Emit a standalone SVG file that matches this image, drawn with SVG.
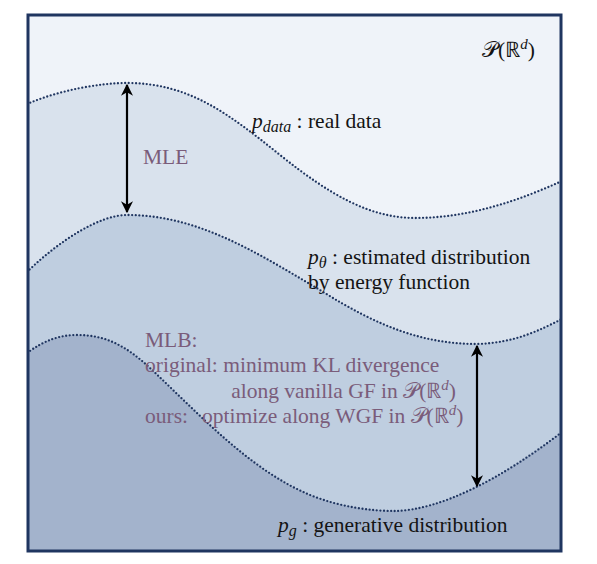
<svg xmlns="http://www.w3.org/2000/svg" width="597" height="564" viewBox="0 0 597 564">
<defs>
<style>
.t{font-family:"Liberation Serif","Times New Roman",serif;font-size:21.5px;fill:#141414}
.m{font-family:"Liberation Serif","Times New Roman",serif;font-size:21.5px;fill:#7a5c7a}
.i{font-style:italic}
.sub{font-style:italic;font-size:16px}
.sup{font-style:italic;font-size:15px}
.cal{font-family:"DejaVu Serif","DejaVu Sans","Liberation Serif",serif;font-weight:normal}
.dot{fill:none;stroke:#1f3560;stroke-width:2.3;stroke-linecap:round;stroke-dasharray:0 3.6}
.arr{stroke:#000;stroke-width:2.2;fill:none;marker-start:url(#ah);marker-end:url(#ah)}
</style>
<marker id="ah" viewBox="0 0 10 10" refX="9" refY="5" markerWidth="5.5" markerHeight="5.5" orient="auto-start-reverse" markerUnits="strokeWidth">
<path d="M0,0 L10,5 L0,10 L3,5 Z" fill="#000"/>
</marker>
<clipPath id="frame"><rect x="28" y="15" width="533" height="536"/></clipPath>
</defs>
<g id="regions" clip-path="url(#frame)">
<rect x="28" y="15" width="533" height="536" fill="#eff3f9"/>
<path id="region-data" d="M27,104 C60,90 100,83 127,83 C190,83 230,115 280,155 C330,195 370,218 415,218 C470,218 520,200 562,181 L562,552 L27,552 Z" fill="#d9e2ed"/>
<path id="region-theta" d="M27,272 C60,240 100,215 127,215 C200,215 260,255 320,290 C380,328 425,344 477,344 C515,343 540,330 562,319 L562,552 L27,552 Z" fill="#bfcee0"/>
<path id="region-g" d="M27,353 C45,340 60,335 77,335 C105,335 125,345 150,368 C200,415 250,470 310,495 C340,507 370,511 395,511 C440,510 500,480 562,432 L562,552 L27,552 Z" fill="#a3b3cc"/>
</g>
<g id="boundaries" clip-path="url(#frame)">
<path class="dot" d="M27,104 C60,90 100,83 127,83 C190,83 230,115 280,155 C330,195 370,218 415,218 C470,218 520,200 562,181"/>
<path class="dot" d="M27,272 C60,240 100,215 127,215 C200,215 260,255 320,290 C380,328 425,344 477,344 C515,343 540,330 562,319"/>
<path class="dot" d="M27,353 C45,340 60,335 77,335 C105,335 125,345 150,368 C200,415 250,470 310,495 C340,507 370,511 395,511 C440,510 500,480 562,432"/>
</g>
<rect id="space" x="28" y="15" width="533" height="536" fill="none" stroke="#1f3560" stroke-width="3"/>
<g id="connectors">
<line id="mle-arrow" class="arr" x1="127" y1="85" x2="127" y2="212"/>
<line id="mlb-arrow" class="arr" x1="477" y1="346" x2="477" y2="486"/>
</g>
<g id="space-label"><text class="t" x="482" y="57"><tspan class="cal">𝒫</tspan>(ℝ<tspan class="sup" dy="-8">d</tspan><tspan dy="8">)</tspan></text></g>
<g id="p-data"><text class="t" x="252" y="128"><tspan class="i">p</tspan><tspan class="sub" dy="4">data</tspan><tspan dy="-4"> : real data</tspan></text></g>
<g id="mle-label"><text class="m" x="143" y="164">MLE</text></g>
<g id="p-theta"><text class="t" x="308" y="264"><tspan class="i">p</tspan><tspan class="sub" dy="4">θ</tspan><tspan dy="-4"> : estimated distribution</tspan></text><text class="t" x="308" y="289">by energy function</text></g>
<g id="mlb-label">
<text class="m" x="145" y="347">MLB:</text>
<text class="m" x="145" y="372">original: minimum KL divergence</text>
<text class="m" x="456" y="398" text-anchor="end">along vanilla GF in <tspan class="cal">𝒫</tspan>(ℝ<tspan class="sup" dy="-8">d</tspan><tspan dy="8">)</tspan></text>
<text class="m" x="145" y="423">ours:<tspan x="202">optimize along WGF in </tspan><tspan class="cal">𝒫</tspan>(ℝ<tspan class="sup" dy="-8">d</tspan><tspan dy="8">)</tspan></text>
</g>
<g id="p-g"><text class="t" x="278" y="532"><tspan class="i">p</tspan><tspan class="sub" dy="4">g</tspan><tspan dy="-4"> : generative distribution</tspan></text></g>
</svg>
